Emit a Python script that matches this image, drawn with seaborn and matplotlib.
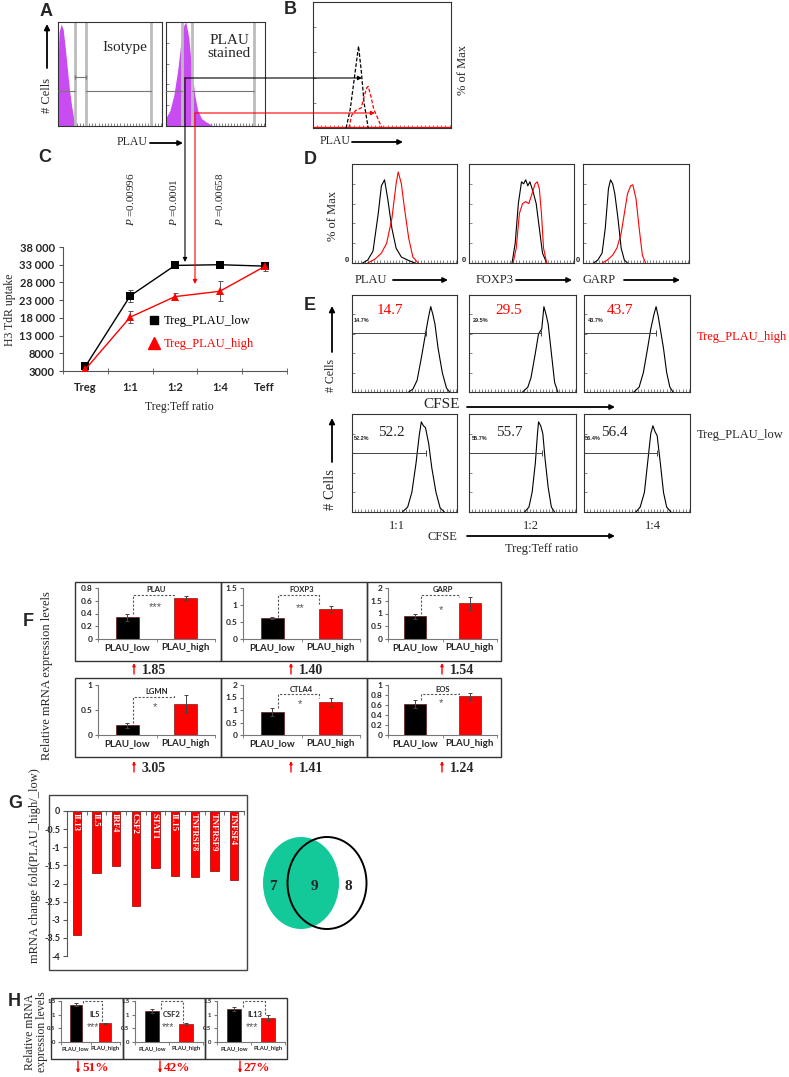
import numpy as np
import pandas as pd
import matplotlib
matplotlib.use("Agg")
import matplotlib.pyplot as plt
import seaborn as sns
from matplotlib.patches import Rectangle, Ellipse
from matplotlib.lines import Line2D
from matplotlib.ticker import MultipleLocator, FuncFormatter

sns.set_style("ticks")
plt.rcParams["font.family"] = ["Liberation Serif", "DejaVu Serif"]
plt.rcParams["axes.unicode_minus"] = False
plt.rcParams["mathtext.fontset"] = "custom"
plt.rcParams["mathtext.it"] = "Liberation Serif:italic"
plt.rcParams["mathtext.rm"] = "Liberation Serif"

SERIF = "Liberation Serif"
SANS = "Liberation Sans"
CAL = "Lato"
RED = "#ff0000"
MAG = "#c94bf2"
W, H = 789, 1077

# ---- A: PLAU histograms (x = % of axis width, y = fraction of max)
iso_x = [0, 1, 3, 5, 7, 9, 11, 13, 15, 17, 20]
iso_y = [0.55, 0.9, 0.98, 0.93, 0.75, 0.55, 0.35, 0.2, 0.08, 0.02, 0]
stain_x = [0, 4, 8, 12, 15, 18, 20, 23, 26, 29, 32, 36, 42, 48]
stain_y = [0.08, 0.15, 0.3, 0.55, 0.8, 0.97, 1.0, 0.85, 0.55, 0.3, 0.15, 0.07, 0.03, 0]

# ---- B: overlay of gated populations
b_black_x = [24, 27, 30, 33, 35, 37, 40]
b_black_y = [0, 0.15, 0.4, 0.65, 0.45, 0.2, 0]
b_red_x = [26, 28, 31, 35, 37, 39, 40, 42, 44, 46, 48, 50]
b_red_y = [0, 0.1, 0.14, 0.16, 0.25, 0.32, 0.33, 0.25, 0.15, 0.1, 0.05, 0]

# ---- C: suppression assay
ratio_labels = ["Treg", "1:1", "1:2", "1:4", "Teff"]
low_mean = [4300, 24200, 32800, 33000, 32600]
low_err = [300, 1800, 500, 500, 1300]
high_mean = [3500, 18200, 24000, 25500, 32500]
high_err = [300, 1700, 1000, 2800, 700]
p_values = ["0.00996", "0.0001", "0.00658"]

# ---- D: PLAU / FOXP3 / GARP histograms
d_markers = ["PLAU", "FOXP3", "GARP"]
d_black_x = [[10, 15, 20, 25, 28, 31, 34, 38, 42, 47, 55, 60],
             [41, 44, 47, 50, 52, 54, 56, 58, 61, 64, 67, 70, 74],
             [10, 14, 18, 21, 24, 26, 28, 30, 33, 36, 39, 42]]
d_black_y = [[0, 0.03, 0.12, 0.5, 0.78, 0.84, 0.65, 0.35, 0.15, 0.06, 0.02, 0],
             [0, 0.2, 0.6, 0.82, 0.8, 0.84, 0.78, 0.82, 0.72, 0.6, 0.35, 0.1, 0],
             [0, 0.03, 0.1, 0.35, 0.75, 0.84, 0.8, 0.7, 0.45, 0.15, 0.03, 0]]
d_red_x = [[15, 22, 28, 33, 38, 42, 44, 47, 50, 54, 58, 63],
           [42, 45, 48, 51, 54, 57, 60, 63, 65, 67, 69, 71, 74],
           [18, 23, 28, 32, 36, 39, 42, 45, 47, 50, 53, 56, 59]]
d_red_y = [[0, 0.04, 0.1, 0.2, 0.45, 0.8, 0.92, 0.8, 0.55, 0.25, 0.06, 0],
           [0, 0.15, 0.5, 0.6, 0.62, 0.6, 0.7, 0.8, 0.82, 0.75, 0.5, 0.15, 0],
           [0, 0.03, 0.08, 0.15, 0.3, 0.5, 0.7, 0.78, 0.79, 0.65, 0.35, 0.08, 0]]

# ---- E: CFSE dilution
e_ratios = ["1:1", "1:2", "1:4"]
e_high_pct = ["14.7", "29.5", "43.7"]
e_low_pct = ["52.2", "55.7", "56.4"]
e_high_x = [[54, 58, 62, 66, 70, 73, 75, 77, 79, 82, 86, 90, 93],
            [50, 55, 58, 62, 65, 68, 70, 72, 74, 77, 80, 83],
            [47, 52, 56, 60, 63, 66, 68, 70, 72, 75, 78, 81, 84]]
e_high_y = [[0, 0.03, 0.12, 0.35, 0.6, 0.78, 0.88, 0.8, 0.7, 0.45, 0.2, 0.04, 0],
            [0, 0.05, 0.15, 0.4, 0.6, 0.65, 0.88, 0.8, 0.7, 0.4, 0.1, 0],
            [0, 0.05, 0.2, 0.45, 0.65, 0.8, 0.88, 0.78, 0.65, 0.45, 0.2, 0.05, 0]]
e_low_x = [[48, 53, 57, 61, 64, 66, 68, 70, 73, 76, 80, 84, 88],
           [52, 56, 59, 62, 64, 65, 67, 69, 71, 74, 77, 80],
           [49, 53, 57, 60, 63, 65, 67, 69, 72, 75, 78, 82]]
e_low_y = [[0, 0.05, 0.2, 0.5, 0.78, 0.92, 0.88, 0.86, 0.7, 0.45, 0.2, 0.04, 0],
           [0, 0.05, 0.2, 0.5, 0.8, 0.92, 0.88, 0.8, 0.55, 0.25, 0.05, 0],
           [0, 0.05, 0.2, 0.5, 0.8, 0.88, 0.82, 0.78, 0.5, 0.2, 0.05, 0]]

# ---- F: qPCR of Treg markers
f_genes = ["PLAU", "FOXP3", "GARP", "LGMN", "CTLA4", "EOS"]
f_low = [0.34, 0.62, 0.90, 0.20, 0.93, 0.62]
f_low_err = [0.05, 0.03, 0.10, 0.05, 0.15, 0.08]
f_high = [0.64, 0.88, 1.40, 0.62, 1.31, 0.78]
f_high_err = [0.03, 0.08, 0.25, 0.18, 0.18, 0.07]
f_stars = ["***", "**", "*", "*", "*", "*"]
f_fold = ["1.85", "1.40", "1.54", "3.05", "1.41", "1.24"]
f_ymax = [0.8, 1.5, 2, 1, 2, 1]
f_ystep = [0.2, 0.5, 0.5, 0.5, 0.5, 0.2]
f_bracket = [0.69, 1.30, 1.73, 0.76, 1.64, 0.82]
f_star_y = [0.50, 0.91, 1.15, 0.56, 1.24, 0.64]

# ---- G: fold change of down-regulated genes, and Venn counts
g_genes = ["IL13", "IL5", "IRF4", "CSF2", "STAT1", "IL15", "TNFRSF8", "TNFRSF9", "TNFSF4"]
g_fold = [-3.42, -1.70, -1.52, -2.63, -1.58, -1.79, -1.81, -1.66, -1.91]
venn_counts = [7, 9, 8]

# ---- H: qPCR of cytokines
h_genes = ["IL5", "CSF2", "IL13"]
h_low = [1.36, 1.13, 1.20]
h_low_err = [0.05, 0.06, 0.08]
h_high = [0.68, 0.66, 0.88]
h_high_err = [0.03, 0.02, 0.10]
h_drop = ["51%", "42%", "27%"]

fig = plt.figure(figsize=(W / 100, H / 100), dpi=100)


def px_axes(x0, y0, x1, y1):
    return fig.add_axes([x0 / W, 1 - y1 / H, (x1 - x0) / W, (y1 - y0) / H])


def flow_frame(ax):
    ax.set_xlim(0, 100)
    ax.set_ylim(0, 1)
    ax.set_xticks([])
    ax.set_yticks([])
    ax.xaxis.set_minor_locator(MultipleLocator(3))
    ax.yaxis.set_minor_locator(MultipleLocator(0.2))
    ax.tick_params(which="minor", direction="in", length=2, width=0.5, colors="#555")
    for sp in ax.spines.values():
        sp.set_visible(True)
        sp.set_color("#333")
        sp.set_linewidth(0.8)
    ax.set_facecolor("white")


def expr_bars(ax, low, high, lo_err, hi_err, ymax, ystep, fs, fs_y):
    df = pd.DataFrame({"group": ["PLAU_low", "PLAU_high"], "level": [low, high]})
    sns.barplot(data=df, x="group", y="level", hue="group", palette=["black", RED],
                width=0.4, saturation=1, legend=False, ax=ax,
                edgecolor="#600000", linewidth=0.4)
    ax.errorbar([0, 1], [low, high], yerr=[lo_err, hi_err], fmt="none",
                ecolor="#444", elinewidth=0.7, capsize=1.5, capthick=0.7)
    ax.set_xlim(-0.5, 1.5)
    ax.set_ylim(0, ymax)
    ax.set_yticks(np.arange(0, ymax + 1e-9, ystep))
    ax.yaxis.set_major_formatter(FuncFormatter(lambda v, _: f"{v:g}"))
    ax.set_xlabel("")
    ax.set_ylabel("")
    ax.set_facecolor("none")
    sns.despine(ax=ax)
    for s in ("left", "bottom"):
        ax.spines[s].set_color("#777")
        ax.spines[s].set_linewidth(0.8)
    ax.set_xticks([-0.5, 0.5, 1.5], minor=True)
    ax.tick_params(axis="x", which="major", length=0, pad=3, labelsize=fs)
    ax.tick_params(axis="x", which="minor", length=2.5, color="#777")
    ax.tick_params(axis="y", length=2.5, color="#777", pad=1.5, labelsize=fs_y)
    for lab in ax.get_xticklabels() + ax.get_yticklabels():
        lab.set_fontfamily(CAL)
        lab.set_fontweight("bold")


# ================= A =================
axA1 = px_axes(58, 22, 162, 126)
axA2 = px_axes(166, 22, 265, 126)
for ax, hx, hy in [(axA1, iso_x, iso_y), (axA2, stain_x, stain_y)]:
    flow_frame(ax)
    ax.fill_between(hx, hy, color=MAG, lw=0, zorder=1)
for ax, g0, g1, g2 in [(axA1, 16.3, 27, 89.4), (axA2, 16, 26, 89)]:
    for gx in (g0, g1, g2):
        ax.axvline(gx, color="#bcbcbc", lw=2, zorder=2)
    ax.plot([0, g0], [0.337, 0.337], color="#777", lw=0.8, zorder=3)
    ax.plot([g1, g2], [0.337, 0.337], color="#777", lw=0.8, zorder=3)
axA1.plot([16.3, 27], [0.47, 0.47], color="#777", lw=0.8, marker="|", ms=3)

# ================= B =================
axB = px_axes(313, 2, 451, 128)
flow_frame(axB)
axB.axhline(0.006, color=RED, lw=1)
axB.plot(b_black_x, b_black_y, color="black", lw=0.9, ls=(0, (3, 1.5)))
axB.plot(b_red_x, b_red_y, color=RED, lw=0.9, ls=(0, (3, 1.5)))

# ================= C =================
axC = px_axes(63, 247, 287, 371)
dfc = pd.DataFrame({
    "pos": list(range(5)) * 2,
    "uptake": low_mean + high_mean,
    "group": ["Treg_PLAU_low"] * 5 + ["Treg_PLAU_high"] * 5,
})
sns.lineplot(data=dfc, x="pos", y="uptake", hue="group", style="group",
             palette={"Treg_PLAU_low": "black", "Treg_PLAU_high": RED},
             markers={"Treg_PLAU_low": "s", "Treg_PLAU_high": "^"},
             dashes=False, markersize=5.5, markeredgewidth=0, lw=1,
             legend=False, ax=axC, zorder=3)
axC.errorbar(range(5), low_mean, yerr=low_err, fmt="none", ecolor="#555",
             elinewidth=0.7, capsize=1.8, capthick=0.7)
axC.errorbar(range(5), high_mean, yerr=high_err, fmt="none", ecolor="#555",
             elinewidth=0.7, capsize=1.8, capthick=0.7)
axC.set_xlim(-0.5, 4.5)
axC.set_ylim(3000, 38000)
axC.set_yticks(np.arange(3000, 38001, 5000))
axC.yaxis.set_major_formatter(FuncFormatter(
    lambda v, _: f"{v:,.0f}".replace(",", " ") if v >= 10000 else f"{v:.0f}"))
axC.set_xticks(range(5))
axC.set_xticklabels(ratio_labels)
axC.set_xticks(np.arange(-0.5, 4.6, 1), minor=True)
axC.set_xlabel("")
axC.set_ylabel("")
axC.set_facecolor("none")
sns.despine(ax=axC)
for s in ("left", "bottom"):
    axC.spines[s].set_color("#555")
    axC.spines[s].set_linewidth(0.8)
axC.tick_params(axis="x", which="major", length=0, pad=8, labelsize=8)
axC.tick_params(axis="x", which="minor", length=4, direction="inout", color="#555")
axC.tick_params(axis="y", length=3, color="#555", labelsize=8, pad=3)
for lab in axC.get_xticklabels() + axC.get_yticklabels():
    lab.set_fontfamily(CAL)
    lab.set_fontweight("bold")
leg_h = [Line2D([], [], marker="s", color="black", ls="none", ms=6),
         Line2D([], [], marker="^", color=RED, ls="none", ms=8)]
axC.legend(leg_h, ["Treg_PLAU_low", "Treg_PLAU_high"], loc="upper left",
           bbox_to_anchor=(0.35, 0.5), frameon=False, handlelength=1.0,
           handletextpad=0.3, labelspacing=0.9, borderpad=0,
           labelcolor=["black", RED], prop={"family": SERIF, "size": 9})

# ================= D =================
d_boxes = [(352, 164, 457, 263), (469, 164, 574, 263), (583, 164, 689, 263)]
for i, (x0, y0, x1, y1) in enumerate(d_boxes):
    ax = px_axes(x0, y0, x1, y1)
    flow_frame(ax)
    ax.plot(d_black_x[i], d_black_y[i], color="black", lw=0.8)
    ax.plot(d_red_x[i], d_red_y[i], color=RED, lw=0.8)

# ================= E =================
e_top_boxes = [(352, 295, 457, 392), (469, 295, 576, 392), (584, 295, 690, 392)]
e_bot_boxes = [(352, 414, 457, 512), (469, 414, 576, 512), (584, 414, 690, 512)]
e_top_gate = [70, 67, 68]
e_bot_gate = [70, 68, 69]
for i in range(3):
    for box, hx, hy, gate, gy in [(e_top_boxes[i], e_high_x[i], e_high_y[i], e_top_gate[i], 0.61),
                                  (e_bot_boxes[i], e_low_x[i], e_low_y[i], e_bot_gate[i], 0.60)]:
        ax = px_axes(*box)
        flow_frame(ax)
        ax.plot(hx, hy, color="black", lw=0.8)
        ax.plot([0, gate], [gy, gy], color="#444", lw=0.7)
        ax.plot([gate], [gy], color="#444", marker="|", ms=4, mew=0.7)

# ================= F =================
f_boxes = [(75, 582, 221, 661), (221, 582, 367, 661), (367, 582, 501, 661),
           (75, 678, 221, 757), (221, 678, 367, 757), (367, 678, 501, 757)]
f_axes_px = [(98, 588, 215, 639), (243, 588, 360, 639), (388, 588, 497, 639),
             (98, 685, 215, 735), (243, 685, 360, 735), (388, 685, 497, 735)]
for i, gene in enumerate(f_genes):
    ax = px_axes(*f_axes_px[i])
    expr_bars(ax, f_low[i], f_high[i], f_low_err[i], f_high_err[i],
              f_ymax[i], f_ystep[i], 7, 6)
    ax.plot([0.1, 0.1, 0.8, 0.8],
            [f_low[i] + f_low_err[i], f_bracket[i], f_bracket[i], f_high[i] + f_high_err[i]],
            color="#555", lw=0.8, ls=(0, (2, 1.5)), clip_on=False)
    ax.text(0.48, f_star_y[i], f_stars[i], ha="center", va="center",
            fontsize=8, color="#555", family=SANS)
    ax.text(0.5, f_bracket[i] + f_ymax[i] * 0.1, gene, ha="center", va="center",
            fontsize=5.5, family=CAL, fontweight="bold")

# ================= G =================
axG = px_axes(67, 811, 244, 956)
sns.barplot(x=g_genes, y=g_fold, color=RED, width=0.42, saturation=1,
            edgecolor="#8a0000", linewidth=0.5, ax=axG)
axG.set_xlim(-0.5, len(g_genes) - 0.5)
axG.set_ylim(-4, 0)
axG.set_yticks(np.arange(-4, 0.01, 0.5))
axG.yaxis.set_major_formatter(FuncFormatter(lambda v, _: f"{v:g}"))
axG.set_facecolor("none")
for s in ("right", "bottom"):
    axG.spines[s].set_visible(False)
for s in ("left", "top"):
    axG.spines[s].set_color("#555")
    axG.spines[s].set_linewidth(0.8)
axG.xaxis.tick_top()
axG.set_xticks([])
axG.set_xticks(np.arange(-0.5, len(g_genes)), minor=True)
axG.tick_params(axis="x", which="minor", top=True, bottom=False, direction="in",
                length=3, color="#555")
axG.tick_params(axis="y", length=3, color="#555", labelsize=6.5, pad=2)
for lab in axG.get_yticklabels():
    lab.set_fontfamily(CAL)
    lab.set_fontweight("bold")
for i, gene in enumerate(g_genes):
    axG.text(i, -0.05, gene, rotation=-90, rotation_mode="anchor", ha="left",
             va="center_baseline", color="white", fontsize=6.3,
             fontweight="bold", family=SERIF)

# ================= H =================
h_boxes = [(51, 998, 123, 1059), (123, 998, 205, 1059), (205, 998, 287, 1059)]
h_axes_px = [(61, 1001, 120, 1042), (135, 1001, 203, 1042), (217, 1001, 285, 1042)]
h_label_x = [0.45, 0.32, 0.38]
for i, gene in enumerate(h_genes):
    ax = px_axes(*h_axes_px[i])
    expr_bars(ax, h_low[i], h_high[i], h_low_err[i], h_high_err[i], 1.5, 0.5, 4.2, 4.2)
    ax.plot([0.25, 0.25, 0.9, 0.9], [h_low[i] + h_low_err[i], 1.5, 1.5, h_high[i] + h_high_err[i]],
            color="#555", lw=0.8, ls=(0, (2, 1.5)), clip_on=False)
    ax.text(h_label_x[i], 1.02, gene, ha="left", va="center", fontsize=5.5,
            family=CAL, fontweight="bold")
    ax.text(h_label_x[i] + 0.15, 0.55, "***", ha="center", va="center",
            fontsize=7.5, color="#555", family=SANS)

# ================= figure-level overlay (pixel coords) =================
over = fig.add_axes([0, 0, 1, 1], zorder=10)
over.set_xlim(0, W)
over.set_ylim(H, 0)
over.axis("off")
over.patch.set_alpha(0)


def txt(x, y, s, size=9, ha="center", va="center", **kw):
    kw.setdefault("family", SERIF)
    over.text(x, y, s, fontsize=size, ha=ha, va=va, **kw)


def arrow(x0, y0, x1, y1, color="black", lw=1.0, ms=7):
    over.annotate("", xy=(x1, y1), xytext=(x0, y0),
                  arrowprops=dict(arrowstyle="-|>", color=color, lw=lw,
                                  mutation_scale=ms, shrinkA=0, shrinkB=0))


def letter(x, y, s):
    txt(x, y, s, size=13, family=SANS, fontweight="bold")


for x, y, s in [(46, 12, "A"), (290, 9, "B"), (45, 157, "C"), (310, 159, "D"),
                (310, 305, "E"), (28, 622, "F"), (15, 803, "G"), (14, 1001, "H")]:
    letter(x, y, s)

# A
txt(125, 47, "Isotype", size=11)
txt(229, 47, "PLAU\nstained", size=11, linespacing=1.05)
txt(47, 95, "# Cells", size=9, rotation=90)
arrow(47, 68, 47, 24, lw=1.3, ms=8)
txt(132, 142, "PLAU", size=8.5)
arrow(150, 143, 183, 143, lw=1.3, ms=7)
# link lines A -> B and A -> C
arrow(185, 78, 362, 78, color="black", lw=0.8, ms=6)
arrow(185, 78, 185, 262, color="black", lw=0.8, ms=6)
arrow(195, 113, 375, 113, color=RED, lw=0.8, ms=6)
arrow(195, 113, 195, 284, color=RED, lw=0.8, ms=6)

# B
txt(463, 70, "% of Max", size=9, rotation=90)
txt(335, 141, "PLAU", size=8.5)
arrow(352, 142, 403, 142, lw=1.3, ms=7)

# C
for x, p in zip([131, 174, 220], p_values):
    txt(x, 226, "$P$ =" + p, size=8, rotation=90, va="bottom")
txt(10, 310, "H3 TdR uptake", size=8.5, rotation=90)
txt(179, 407, "Treg:Teff ratio", size=8.5)

# D
txt(333, 216, "% of Max", size=9, rotation=90)
for (x0, y0, x1, y1) in d_boxes:
    txt(x0 - 5, 260, "0", size=5.5, family=SANS, fontweight="bold")
for x, arr0, arr1, name in [(355, 393, 448, "PLAU"), (476, 516, 572, "FOXP3"),
                            (583, 624, 680, "GARP")]:
    txt(x, 280, name, size=9, ha="left")
    arrow(arr0, 280, arr1, 280, lw=1.3, ms=7)

# E
txt(331, 375, "# Cells", size=8.5, rotation=90)
arrow(332, 352, 332, 306, lw=1.3, ms=8)
txt(331, 490, "# Cells", size=10.5, rotation=90)
arrow(332, 462, 332, 418, lw=1.3, ms=8)
txt(442, 405, "CFSE", size=11)
arrow(467, 407, 615, 407, lw=1.3, ms=7)
txt(442, 537, "CFSE", size=9)
arrow(467, 536, 615, 536, lw=1.3, ms=7)
for x, r in zip([397, 531, 653], e_ratios):
    txt(x, 526, r, size=9)
txt(542, 549, "Treg:Teff ratio", size=9)
txt(697, 337, "Treg_PLAU_high", size=9, ha="left", color=RED)
txt(697, 435, "Treg_PLAU_low", size=9, ha="left")
e_top_small = [2, 4, 4]
e_top_big = [25, 26, 23]
e_bot_small = [2, 3, 1]
e_bot_big = [26, 27, 17]
for i in range(3):
    tx0 = e_top_boxes[i][0]
    bx0 = e_bot_boxes[i][0]
    txt(tx0 + e_top_small[i], 321, e_high_pct[i] + "%", size=4, ha="left",
        family=SANS, fontweight="bold")
    txt(tx0 + e_top_big[i], 310, e_high_pct[i], size=11, ha="left", color=RED)
    txt(bx0 + e_bot_small[i], 438, e_low_pct[i] + "%", size=4, ha="left",
        family=SANS, fontweight="bold")
    txt(bx0 + e_bot_big[i], 433, e_low_pct[i], size=11, ha="left")

# F
for (x0, y0, x1, y1) in f_boxes:
    over.add_patch(Rectangle((x0, y0), x1 - x0, y1 - y0, fill=False,
                             edgecolor="#333", lw=1))
txt(47, 676, "Relative mRNA expression levels", size=9, rotation=90)
f_arrow_x = [134, 291, 442, 134, 291, 442]
f_row_y = [669, 669, 669, 767, 767, 767]
for i, fold in enumerate(f_fold):
    arrow(f_arrow_x[i], f_row_y[i] + 5, f_arrow_x[i], f_row_y[i] - 6, color=RED, lw=1, ms=4)
    txt(f_arrow_x[i] + 8, f_row_y[i] + 1, fold, size=10, ha="left", fontweight="bold")

# G
over.add_patch(Rectangle((49, 795), 198, 175, fill=False, edgecolor="#444", lw=1))
txt(35, 866, "mRNA change fold(PLAU_high/_low)", size=9, rotation=90)
over.add_patch(Ellipse((301, 883), 76, 92, facecolor="#13c99a", edgecolor="none"))
over.add_patch(Ellipse((327, 883), 79, 92, facecolor="none", edgecolor="black", lw=1.4))
for x, n in zip([273, 314, 348], venn_counts):
    txt(x, 886, str(n), size=11, fontweight="bold")

# H
for (x0, y0, x1, y1) in h_boxes:
    over.add_patch(Rectangle((x0, y0), x1 - x0, y1 - y0, fill=False,
                             edgecolor="#333", lw=1))
txt(36, 1032, "Relative mRNA\nexpression levels", size=8.5, rotation=90, linespacing=0.95)
for x, d in zip([78, 160, 240], h_drop):
    arrow(x, 1061, x, 1073, color=RED, lw=1, ms=4)
    txt(x + 4, 1068, d, size=9.5, ha="left", color=RED, fontweight="bold")

fig.savefig("out.png", dpi=100)
